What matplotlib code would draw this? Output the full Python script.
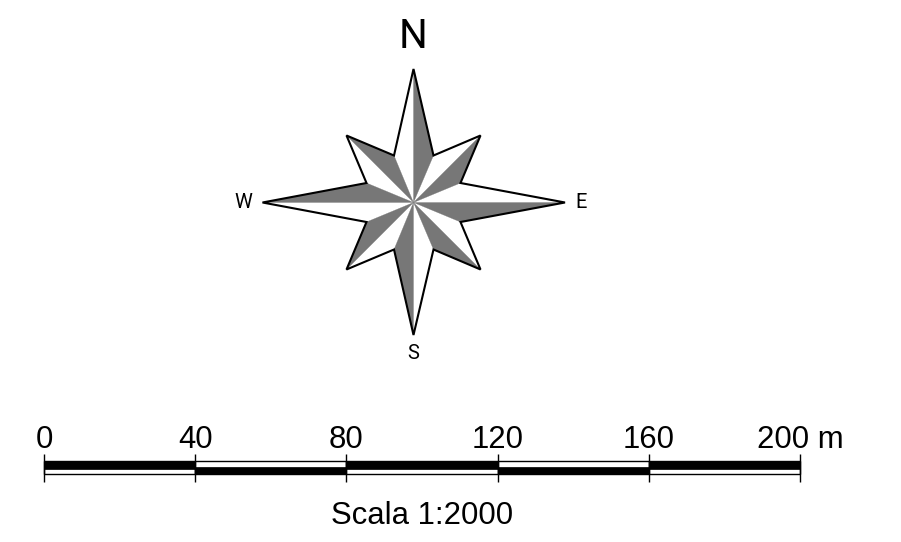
import matplotlib
matplotlib.use('Agg')
import matplotlib.pyplot as plt

# Compass rose, offsets from the centre going clockwise from north
tip_x = [0, 67, 151.5, 67, 0, -67, -151, -67]
tip_y = [133.5, 67, 0, -67, -132.5, -67, 0, 67]
inner_x = [20, 47, 47, 20, -19.5, -47, -47, -19.5]
inner_y = [47, 19.5, -19.5, -47, -47, -19.5, 19.5, 47]

compass_labels = ['N', 'E', 'S', 'W']
compass_x = [0, 168, 0, -170.5]
compass_y = [166.5, 0, -151, 0]
compass_sizes = [29, 14.5, 14.5, 14.5]

# Scale bar
scale_ticks = [0, 40, 80, 120, 160, 200]
scale_labels = ['0', '40', '80', '120', '160', '200 m']
scale_title = 'Scala 1:2000'

GRAY = '#777777'

fig = plt.figure(figsize=(9.01, 5.42), dpi=100)
W, H = 901, 542

# Rose axes covers the whole figure, origin on the rose centre
ax = fig.add_axes([0, 0, 1, 1])
ax.set_xlim(-413.5, W - 413.5)
ax.set_ylim(-(H - 202.5), 202.5)
ax.axis('off')

n = len(tip_x)
for i in range(n):
    # gray facet on the clockwise side of each point
    ax.fill([0, tip_x[i], inner_x[i]], [0, tip_y[i], inner_y[i]],
            fc=GRAY, ec=GRAY, lw=0.2, zorder=2)

outline_x = []
outline_y = []
for i in range(n):
    outline_x += [tip_x[i], inner_x[i]]
    outline_y += [tip_y[i], inner_y[i]]
ax.fill(outline_x, outline_y, fc='none', ec='black', lw=1.5,
        joinstyle='miter', zorder=3)

for label, x, y, size in zip(compass_labels, compass_x, compass_y, compass_sizes):
    ax.text(x, y, label, fontsize=size, family='Roboto', ha='center', va='center')

# Scale axes: x runs in metres, y is 0-1 over the tick height
sx = fig.add_axes([44 / W, 1 - 481.5 / H, 756 / W, 27.5 / H])
sx.set_xlim(0, 200)
sx.set_ylim(0, 1)
sx.axis('off')

for i in range(len(scale_ticks) - 1):
    x0, x1 = scale_ticks[i], scale_ticks[i + 1]
    # outlined strip with the black band alternating top and bottom
    sx.fill([x0, x1, x1, x0], [0.26, 0.26, 0.74, 0.74], fc='white', ec='black',
            lw=1.0, clip_on=False, zorder=2)
    if i % 2 == 0:
        sx.fill([x0, x1, x1, x0], [0.47, 0.47, 0.74, 0.74], fc='black', ec='black',
                lw=0.5, clip_on=False, zorder=3)
    else:
        sx.fill([x0, x1, x1, x0], [0.26, 0.26, 0.51, 0.51], fc='black', ec='black',
                lw=0.5, clip_on=False, zorder=3)

sx.vlines(scale_ticks, 0, 1, color='black', lw=1.0, clip_on=False, zorder=4)

for t, label in zip(scale_ticks, scale_labels):
    sx.text(t, 1.23, label, fontsize=22.4, family='Liberation Sans',
            ha='center', va='baseline', clip_on=False)
sx.text(100, -1.53, scale_title, fontsize=22.4, family='Liberation Sans',
        ha='center', va='baseline', clip_on=False)

fig.savefig('out.png', dpi=100)
